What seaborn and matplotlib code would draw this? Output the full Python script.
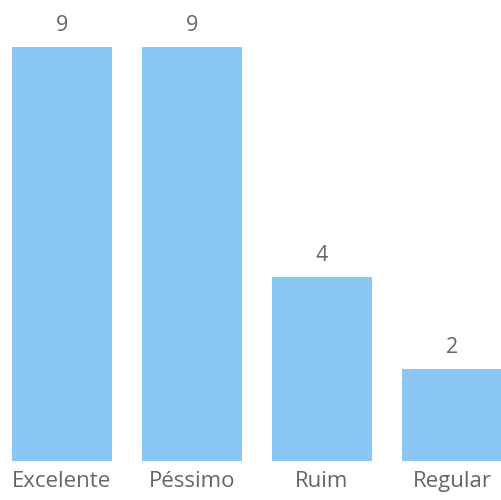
import matplotlib
matplotlib.use('Agg')
import matplotlib.pyplot as plt
import seaborn as sns
import pandas as pd

categories = ['Excelente', 'Péssimo', 'Ruim', 'Regular']
counts = [9, 9, 4, 2]

df = pd.DataFrame({'categoria': categories, 'total': counts})

plt.rcParams['font.family'] = ['Open Sans', 'DejaVu Sans']
textColor = '#666666'

fig = plt.figure(figsize=(5.01, 5.00), dpi=100)
ax = fig.add_axes([0, 0.078, 1, 0.922])
sns.barplot(data=df, x='categoria', y='total', color='#8AC7F5', saturation=1,
            width=100 / 130, ax=ax)
ax.set_xlim(-62 / 130, 3 + 49 / 130)
ax.set_ylim(0, 461 / 46)
ax.bar_label(ax.containers[0], padding=8, fontsize=15.5, color=textColor)
ax.tick_params(axis='x', length=0, pad=7, labelsize=16, labelcolor=textColor)
ax.set_yticks([])
ax.set_xlabel('')
ax.set_ylabel('')
for s in ax.spines.values():
    s.set_visible(False)
fig.savefig('out.png', dpi=100)
